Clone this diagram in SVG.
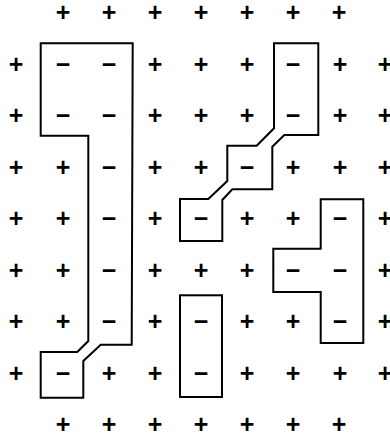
<svg xmlns="http://www.w3.org/2000/svg" width="390" height="434" viewBox="0 0 390 434">
<style>
text{font-family:"Liberation Sans",Arial,sans-serif;font-size:25px;font-weight:bold;text-anchor:middle;fill:#000}
.r{fill:none;stroke:#000;stroke-width:2;stroke-linejoin:miter}
</style>
<rect width="390" height="434" fill="#fff"/>
<g id="regions">
<path id="regionA" class="r" d="M40.7,43.3 L132.7,43.3 L131.7,344.7 L100.7,344.7 L83.3,361 L83.3,397.7 L40.7,397.7 L40.7,352 L77.3,352 L88.3,341 L88.3,135.7 L40.7,135.7 Z"/>
<path id="regionB" class="r" d="M274,43.3 L318.3,43.3 L318.3,135 L284.3,135 L272.3,146.7 L272.3,189.3 L232.3,189.3 L222.3,200 L222.3,241 L180,241 L180,199 L208.3,199 L227.3,181 L227.3,145.7 L256.7,145.7 L274,128.3 Z"/>
<rect id="regionC" class="r" x="180" y="295.3" width="42" height="101.7"/>
<path id="regionD" class="r" d="M320.7,199.3 L363.3,199.3 L363.3,343 L320.7,343 L320.7,292 L273.3,292 L273.3,248.7 L320.7,248.7 Z"/>
</g>
<g id="signs">
<g id="row0"><text x="63" y="21.4">+</text><text x="109" y="21.4">+</text><text x="155" y="21.4">+</text><text x="201" y="21.4">+</text><text x="247" y="21.4">+</text><text x="293" y="21.4">+</text><text x="339" y="21.4">+</text></g>
<g id="row1"><text x="16" y="72.9">+</text><text x="63" y="72.9">−</text><text x="109" y="72.9">−</text><text x="155" y="72.9">+</text><text x="201" y="72.9">+</text><text x="247" y="72.9">+</text><text x="293" y="72.9">−</text><text x="340" y="72.9">+</text><text x="385" y="72.9">+</text></g>
<g id="row2"><text x="16" y="124.4">+</text><text x="63" y="124.4">−</text><text x="109" y="124.4">−</text><text x="155" y="124.4">+</text><text x="201" y="124.4">+</text><text x="247" y="124.4">+</text><text x="293" y="124.4">−</text><text x="340" y="124.4">+</text><text x="385" y="124.4">+</text></g>
<g id="row3"><text x="16" y="175.9">+</text><text x="63" y="175.9">+</text><text x="109" y="175.9">−</text><text x="155" y="175.9">+</text><text x="201" y="175.9">+</text><text x="247" y="175.9">−</text><text x="293" y="175.9">+</text><text x="340" y="175.9">+</text><text x="385" y="175.9">+</text></g>
<g id="row4"><text x="16" y="227.4">+</text><text x="63" y="227.4">+</text><text x="109" y="227.4">−</text><text x="155" y="227.4">+</text><text x="201" y="227.4">−</text><text x="247" y="227.4">+</text><text x="293" y="227.4">+</text><text x="340" y="227.4">−</text><text x="385" y="227.4">+</text></g>
<g id="row5"><text x="16" y="278.9">+</text><text x="63" y="278.9">+</text><text x="109" y="278.9">−</text><text x="155" y="278.9">+</text><text x="201" y="278.9">+</text><text x="247" y="278.9">+</text><text x="293" y="278.9">−</text><text x="340" y="278.9">−</text><text x="385" y="278.9">+</text></g>
<g id="row6"><text x="16" y="330.4">+</text><text x="63" y="330.4">+</text><text x="109" y="330.4">−</text><text x="155" y="330.4">+</text><text x="201" y="330.4">−</text><text x="247" y="330.4">+</text><text x="293" y="330.4">+</text><text x="340" y="330.4">−</text><text x="385" y="330.4">+</text></g>
<g id="row7"><text x="16" y="381.9">+</text><text x="63" y="381.9">−</text><text x="109" y="381.9">+</text><text x="155" y="381.9">+</text><text x="201" y="381.9">−</text><text x="247" y="381.9">+</text><text x="293" y="381.9">+</text><text x="340" y="381.9">+</text><text x="385" y="381.9">+</text></g>
<g id="row8"><text x="63" y="433.4">+</text><text x="109" y="433.4">+</text><text x="155" y="433.4">+</text><text x="201" y="433.4">+</text><text x="247" y="433.4">+</text><text x="293" y="433.4">+</text><text x="339" y="433.4">+</text></g>
</g>
</svg>
